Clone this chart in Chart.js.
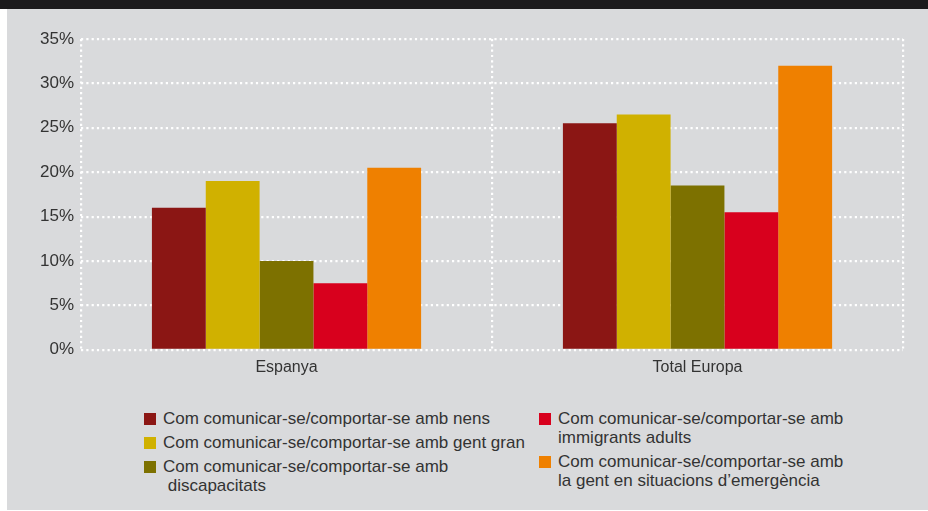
<!DOCTYPE html>
<html>
<head>
<meta charset="utf-8">
<script src="https://cdn.jsdelivr.net/npm/chart.js@4.4.1/dist/chart.umd.min.js"></script>
<style>
  html, body { margin: 0; padding: 0; background: #fff; }
  body { width: 928px; height: 511px; position: relative; overflow: hidden; font-family: 'Liberation Sans', Arial, sans-serif; }
  #topBand { position: absolute; left: 0; top: 0; width: 928px; height: 9px; background: #1b1a1c; }
  #panel { position: absolute; left: 7px; top: 9px; width: 921px; height: 501px; background: #d9dadc; }
  .legendCol { position: absolute; top: 409px; }
  .legendItem { position: relative; padding-left: 19px; margin-bottom: 5px; font-size: 17px; line-height: 19px; color: #333; white-space: pre; }
  .legendItem span { position: absolute; left: 0; top: 4px; width: 12px; height: 12px; }
</style>
</head>
<body>
<div id="topBand"></div>
<div id="panel"></div>
<canvas id="barChart" width="928" height="392" style="position:absolute;left:0;top:0"></canvas>
<div class="legendCol" id="legendLeft" style="left:144px"></div>
<div class="legendCol" id="legendRight" style="left:539px"></div>
<script>
const categories = ['Espanya', 'Total Europa'];
const seriesLabels = [
    'Com comunicar-se/comportar-se amb nens',
    'Com comunicar-se/comportar-se amb gent gran',
    'Com comunicar-se/comportar-se amb\n discapacitats',
    'Com comunicar-se/comportar-se amb\nimmigrants adults',
    'Com comunicar-se/comportar-se amb\nla gent en situacions d\u2019emerg\u00e8ncia'
];
const nens = [16, 25.5];
const gentGran = [19, 26.5];
const discapacitats = [10, 18.5];
const immigrants = [7.5, 15.5];
const emergencia = [20.5, 32];
const seriesColors = ['#8b1614', '#d0b100', '#7d7100', '#d8001d', '#ef8000'];
const yTicks = [0, 5, 10, 15, 20, 25, 30, 35];

const seriesValues = [nens, gentGran, discapacitats, immigrants, emergencia];

const gridStyle = {
    color: '#ffffff',
    lineWidth: 2.2,
    drawTicks: false
};

new Chart(document.getElementById('barChart'), {
    type: 'bar',
    data: {
        labels: categories,
        datasets: seriesValues.map((values, i) => ({
            label: seriesLabels[i],
            data: values,
            backgroundColor: seriesColors[i],
            borderWidth: 0,
            categoryPercentage: 0.655,
            barPercentage: 1
        }))
    },
    options: {
        responsive: false,
        animation: false,
        layout: { padding: { left: 33, right: 25, top: 39, bottom: 7 } },
        plugins: {
            legend: { display: false },
            tooltip: { enabled: false }
        },
        scales: {
            x: {
                offset: true,
                grid: Object.assign({ offset: true }, gridStyle),
                border: { display: false, dash: [2.2, 3.1] },
                ticks: { color: '#333', font: { size: 16, family: 'Liberation Sans' }, padding: 8 }
            },
            y: {
                min: 0,
                max: 35,
                afterBuildTicks: axis => { axis.ticks = yTicks.map(v => ({ value: v })); },
                grid: gridStyle,
                border: { display: false, dash: [2.2, 3.1] },
                ticks: {
                    color: '#333',
                    font: { size: 17, family: 'Liberation Sans' },
                    padding: 7,
                    callback: v => v + '%'
                }
            }
        }
    }
});

// legend in two columns, built from the same series arrays
const legendSplit = [[0, 1, 2], [3, 4]];
['legendLeft', 'legendRight'].forEach((id, col) => {
    const box = document.getElementById(id);
    legendSplit[col].forEach(i => {
        const item = document.createElement('div');
        item.className = 'legendItem';
        item.textContent = seriesLabels[i];
        const swatch = document.createElement('span');
        swatch.style.background = seriesColors[i];
        item.appendChild(swatch);
        box.appendChild(item);
    });
});
</script>
</body>
</html>
